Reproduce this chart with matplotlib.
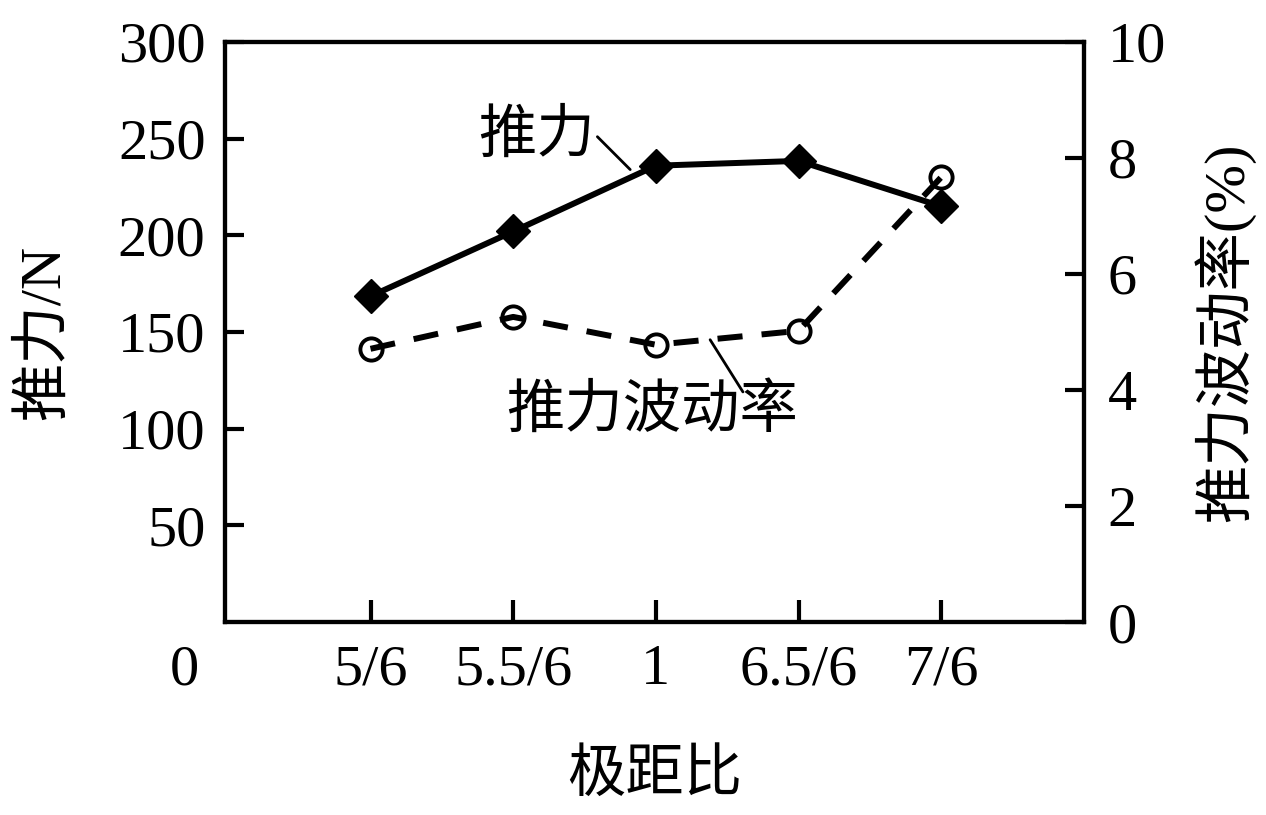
import matplotlib
matplotlib.use('Agg')
import matplotlib.pyplot as plt

plt.rcParams['font.family'] = ['Liberation Serif', 'Noto Sans CJK SC']
plt.rcParams['axes.unicode_minus'] = False

categories = ['5/6', '5.5/6', '1', '6.5/6', '7/6']
thrust = [168.5, 202, 236, 238.5, 215]
ripple = [4.71, 5.26, 4.78, 5.02, 7.67]

left_ticks = [50, 100, 150, 200, 250, 300]
right_ticks = [0, 2, 4, 6, 8, 10]

fs = 42

fig = plt.figure(figsize=(12.66, 8.15), dpi=100)
ax = fig.add_axes([0.1777, 0.2368, 0.6785, 0.7117])
ax2 = ax.twinx()

x = list(range(1, len(categories) + 1))

ax.plot(x, thrust, color='k', lw=4.3, marker='D', ms=17, mfc='k', mec='k', zorder=3)
ax2.plot(x, ripple, color='k', lw=4.3, ls=(0, (4.2, 3.2)), marker='o', ms=16,
         mfc='none', mec='k', mew=2.8, zorder=3)

ax.set_xlim(-0.02, 6.0)
ax.set_ylim(0, 300)
ax2.set_ylim(0, 10)

ax.set_xticks(x)
ax.set_xticklabels(categories)
ax.set_yticks(left_ticks)
ax.set_yticklabels([str(v) for v in left_ticks])
ax2.set_yticks(right_ticks)
ax2.set_yticklabels([str(v) for v in right_ticks])

ax.tick_params(axis='x', direction='in', length=16, width=3, labelsize=fs, pad=16)
ax.tick_params(axis='y', direction='in', length=14, width=3, labelsize=fs, pad=14)
ax2.tick_params(axis='y', direction='in', length=14, width=3, labelsize=fs, pad=17)

for sp in ax.spines.values():
    sp.set_linewidth(3)
for sp in ax2.spines.values():
    sp.set_linewidth(3)

# the lone origin label sits below the frame
ax.text(-0.047, -0.083, '0', transform=ax.transAxes, ha='center', va='center', fontsize=fs)

ax.set_xlabel('极距比', fontsize=fs, labelpad=38)
ax.set_ylabel('推力/N', fontsize=fs, labelpad=34)
ax2.set_ylabel('推力波动率(%)', fontsize=fs, labelpad=20)

# leader lines and their labels
line_kw = dict(arrowstyle='-', color='k', lw=2, shrinkA=0, shrinkB=0)
ax.annotate('', xy=(2.82, 234), xytext=(2.59, 251), arrowprops=line_kw)
ax.text(2.57, 251, '推力', fontsize=fs, ha='right', va='center')
ax.annotate('', xy=(3.38, 146), xytext=(3.61, 119), arrowprops=line_kw)
ax.text(2.97, 109, '推力波动率', fontsize=fs, ha='center', va='center')

fig.savefig('out.png', dpi=100)
